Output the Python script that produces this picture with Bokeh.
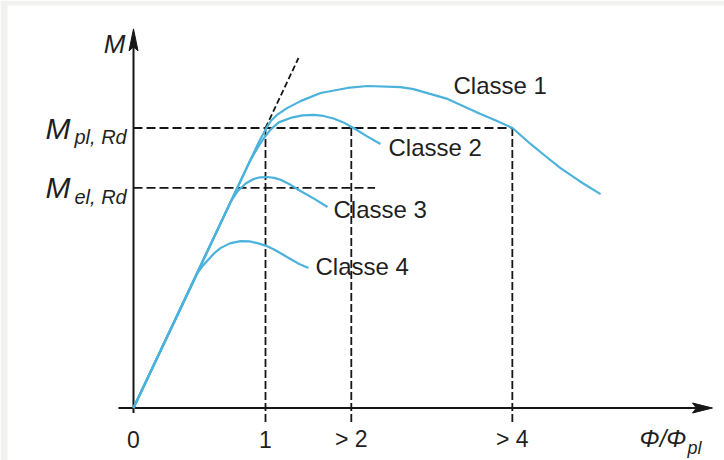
from bokeh.plotting import figure
from bokeh.models import Range1d
from bokeh.embed import file_html
from bokeh.resources import INLINE
from bokeh.core.properties import value

# ---------------- data ----------------
# x: rotation ratio Phi/Phi_pl (schematic positions), y: moment M / M_pl,Rd
classe1_phi = [0.0, 0.95, 1.0, 1.04, 1.09, 1.16, 1.265, 1.417, 1.621, 1.773, 2.023, 2.121,
               2.379, 2.629, 2.75, 2.871, 3.008, 3.12, 3.235, 3.38, 3.538]
classe1_m = [0.0, 0.95, 0.995, 1.025, 1.048, 1.07, 1.096, 1.125, 1.143, 1.15, 1.146, 1.139,
             1.104, 1.05, 1.026, 1.0, 0.943, 0.9, 0.857, 0.81, 0.764]

classe2_phi = [0.0, 0.88, 0.94, 0.985, 1.04, 1.10, 1.189, 1.28, 1.364, 1.44, 1.515, 1.59,
               1.667, 1.77, 1.871]
classe2_m = [0.0, 0.88, 0.93, 0.962, 0.995, 1.02, 1.036, 1.045, 1.047, 1.043, 1.034, 1.02,
             1.0, 0.97, 0.943]

classe3_phi = [0.0, 0.74, 0.79, 0.85, 0.91, 0.96, 1.015, 1.065, 1.114, 1.19, 1.265, 1.37, 1.47]
classe3_m = [0.0, 0.74, 0.775, 0.802, 0.818, 0.824, 0.825, 0.822, 0.815, 0.797, 0.775, 0.747,
             0.718]

classe4_phi = [0.0, 0.485, 0.52, 0.561, 0.61, 0.659, 0.73, 0.811, 0.88, 0.939, 1.0, 1.061,
               1.125, 1.189, 1.26, 1.326]
classe4_m = [0.0, 0.482, 0.505, 0.527, 0.552, 0.571, 0.588, 0.596, 0.595, 0.589, 0.58, 0.567,
             0.55, 0.532, 0.513, 0.5]

class_names = ["Classe 1", "Classe 2", "Classe 3", "Classe 4"]

M_pl = 1.0
M_el = 0.786
phi_ticks = [0.0, 1.0, 1.65, 2.87]
phi_tick_labels = ["0", "1", "> 2", "> 4"]
tangent_phi = [1.0, 1.25]
tangent_m = [1.0, 1.25]
M_el_line_end = 1.83

# ---------------- layout constants ----------------
W, H = 724, 460
SX, SY = 132.0, 280.0          # pixels per data unit
X0_PX, Y0_PX = 133.0, 407.5    # origin position inside the canvas
x_start = -X0_PX / SX
x_end = (W - X0_PX) / SX
y_start = -(H - Y0_PX) / SY
y_end = Y0_PX / SY

X_AXIS_END = 4.386
Y_AXIS_END = 1.354

BLUE = "#4bb2dc"
INK = "#161616"
TXT = "#1f1f1f"
FONT = value("Liberation Sans")

p = figure(width=W, height=H, x_range=Range1d(x_start, x_end), y_range=Range1d(y_start, y_end),
           x_axis_type=None, y_axis_type=None, toolbar_location=None, output_backend="svg",
           min_border=0, outline_line_color=None, background_fill_color="white",
           border_fill_color="white")

# light grey page edge (top and left)
p.quad(left=[x_start, x_start], right=[x_end, x_start + 7 / SX],
       bottom=[y_end - 5 / SY, y_start], top=[y_end, y_end],
       fill_color="#f1f1ef", line_color=None)

# dashed reference lines
p.line([0, phi_ticks[3]], [M_pl, M_pl], line_color=INK, line_width=1.8, line_dash="9 4")
p.line([0, M_el_line_end], [M_el, M_el], line_color=INK, line_width=1.8, line_dash="9 4")
tick_bottom = -15 / SY
for xv in phi_ticks[1:]:
    p.line([xv, xv], [M_pl, tick_bottom], line_color=INK, line_width=1.8, line_dash="8 3")
p.line(tangent_phi, tangent_m, line_color=INK, line_width=1.8, line_dash="6 3")

# axes
p.line([0, 0], [-5 / SY, Y_AXIS_END - 10 / SY], line_color=INK, line_width=2)
p.line([-15 / SX, X_AXIS_END - 10 / SX], [0, 0], line_color=INK, line_width=2)
# arrow heads
p.patch([X_AXIS_END, X_AXIS_END - 20 / SX, X_AXIS_END - 16 / SX, X_AXIS_END - 20 / SX],
        [0, 5 / SY, 0, -5 / SY], fill_color=INK, line_color=INK, line_width=1)
p.patch([0, 4.5 / SX, 0, -4.5 / SX],
        [Y_AXIS_END, Y_AXIS_END - 22 / SY, Y_AXIS_END - 18 / SY, Y_AXIS_END - 22 / SY],
        fill_color=INK, line_color=INK, line_width=1)

# curves
curves = [(classe1_phi, classe1_m), (classe2_phi, classe2_m),
          (classe3_phi, classe3_m), (classe4_phi, classe4_m)]
for xs, ys in curves:
    p.line(xs, ys, line_color=BLUE, line_width=2.2, line_join="round")

# class labels (anchored at curve ends)
label_offsets = [(-147, -109), (8, 4), (6, 3), (7, -2)]
for (xs, ys), name, (dx, dy) in zip(curves, class_names, label_offsets):
    p.text(x=[xs[-1]], y=[ys[-1]], text=[name], text_font=FONT, text_font_size="24px",
           text_color=TXT, text_align="left", text_baseline="middle",
           x_offset=dx, y_offset=dy)

# tick labels
p.text(x=phi_ticks, y=[0] * len(phi_ticks), text=phi_tick_labels, text_font=FONT,
       text_font_size="23px", text_color=TXT, text_align="center",
       text_baseline="middle", y_offset=31)

# y labels
for yv, sub in [(M_pl, "pl, Rd"), (M_el, "el, Rd")]:
    p.text(x=[0], y=[yv], text=["M"], text_font=FONT, text_font_size="30px",
           text_font_style="italic", text_color=TXT, text_align="left",
           text_baseline="middle", x_offset=-88, y_offset=0)
    p.text(x=[0], y=[yv], text=[sub], text_font=FONT, text_font_size="20px",
           text_font_style="italic", text_color=TXT, text_align="left",
           text_baseline="middle", x_offset=-59, y_offset=9)

# axis titles
p.text(x=[0], y=[Y_AXIS_END], text=["M"], text_font=FONT, text_font_size="26px",
       text_font_style="italic", text_color=TXT, text_align="right",
       text_baseline="middle", x_offset=-8, y_offset=15)
p.text(x=[X_AXIS_END], y=[0], text=["Φ/Φ"], text_font=FONT, text_font_size="24px",
       text_font_style="italic", text_color=TXT, text_align="right",
       text_baseline="middle", x_offset=-26, y_offset=30)
p.text(x=[X_AXIS_END], y=[0], text=["pl"], text_font=FONT, text_font_size="18px",
       text_font_style="italic", text_color=TXT, text_align="left",
       text_baseline="middle", x_offset=-25, y_offset=40)

open("out.html", "w").write(file_html(p, INLINE))
